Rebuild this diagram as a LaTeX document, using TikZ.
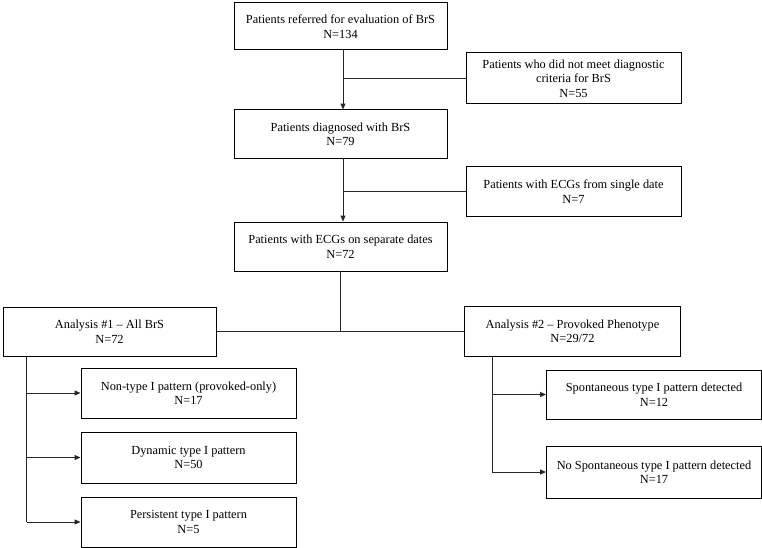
\documentclass[tikz,border=0pt]{standalone}
\usepackage{fontspec}
\setmainfont{Liberation Serif}
\usetikzlibrary{arrows.meta}
\begin{document}
\begin{tikzpicture}[x=1bp,y=-1bp,
  box/.style={draw=black, line width=1pt, rectangle, inner sep=2pt, align=center,
    font=\fontsize{12.4}{14.5}\selectfont},
  conn/.style={line width=1pt, draw=black!85},
  arr/.style={conn, -{Triangle[length=6pt,width=5pt]}}]
\useasboundingbox[fill=white] (0,0) rectangle (762,548);
\node[box, minimum width=213bp, minimum height=47bp] (b1) at (340.5,26.5) {Patients referred for evaluation of BrS\\N=134};
\node[box, minimum width=215bp, minimum height=51bp] (b2) at (573.5,78.5) {Patients who did not meet diagnostic\\criteria for BrS\\N=55};
\node[box, minimum width=213bp, minimum height=48bp] (b3) at (340.5,134) {Patients diagnosed with BrS\\N=79};
\node[box, minimum width=215bp, minimum height=49bp] (b4) at (573.5,191.5) {Patients with ECGs from single date\\N=7};
\node[box, minimum width=213bp, minimum height=49bp] (b5) at (340.5,246.5) {Patients with ECGs on separate dates\\N=72};
\node[box, minimum width=213bp, minimum height=49bp] (a1) at (109.5,331.5) {Analysis \#1 -- All BrS\\N=72};
\node[box, minimum width=216bp, minimum height=50bp] (a2) at (572.5,331.5) {Analysis \#2 -- Provoked Phenotype\\N=29/72};
\node[box, minimum width=215bp, minimum height=50bp] (c1) at (188.5,393) {Non-type I pattern (provoked-only)\\N=17};
\node[box, minimum width=215bp, minimum height=51bp] (c2) at (188.5,457.5) {Dynamic type I pattern\\N=50};
\node[box, minimum width=215bp, minimum height=50bp] (c3) at (188.5,522) {Persistent type I pattern\\N=5};
\node[box, minimum width=215bp, minimum height=49bp] (d1) at (654,394.5) {Spontaneous type I pattern detected\\N=12};
\node[box, minimum width=215bp, minimum height=52bp] (d2) at (654,472) {No Spontaneous type I pattern detected\\N=17};
% main chain
\draw[arr] ([xshift=2.5bp]b1.south) -- ([xshift=2.5bp]b3.north);
\draw[conn] ([xshift=2.5bp]b1.south |- b2.west) -- (b2.west);
\draw[arr] ([xshift=2.5bp]b3.south) -- ([xshift=2.5bp]b5.north);
\draw[conn] ([xshift=2.5bp]b3.south |- b4.west) -- (b4.west);
\draw[conn] (b5.south) -- (b5.south |- a1.east);
\draw[conn] (a1.east) -- (a2.west);
% analysis 1 branches
\coordinate (ta) at ([xshift=24bp]a1.south west);
\draw[conn] (ta) -- (ta |- c3.west);
\draw[arr] (ta |- c1.west) -- (c1.west);
\draw[arr] (ta |- c2.west) -- (c2.west);
\draw[arr] (ta |- c3.west) -- (c3.west);
% analysis 2 branches
\coordinate (tb) at ([xshift=28bp]a2.south west);
\draw[conn] (tb) -- (tb |- d2.west);
\draw[arr] (tb |- d1.west) -- (d1.west);
\draw[arr] (tb |- d2.west) -- (d2.west);
\end{tikzpicture}
\end{document}
